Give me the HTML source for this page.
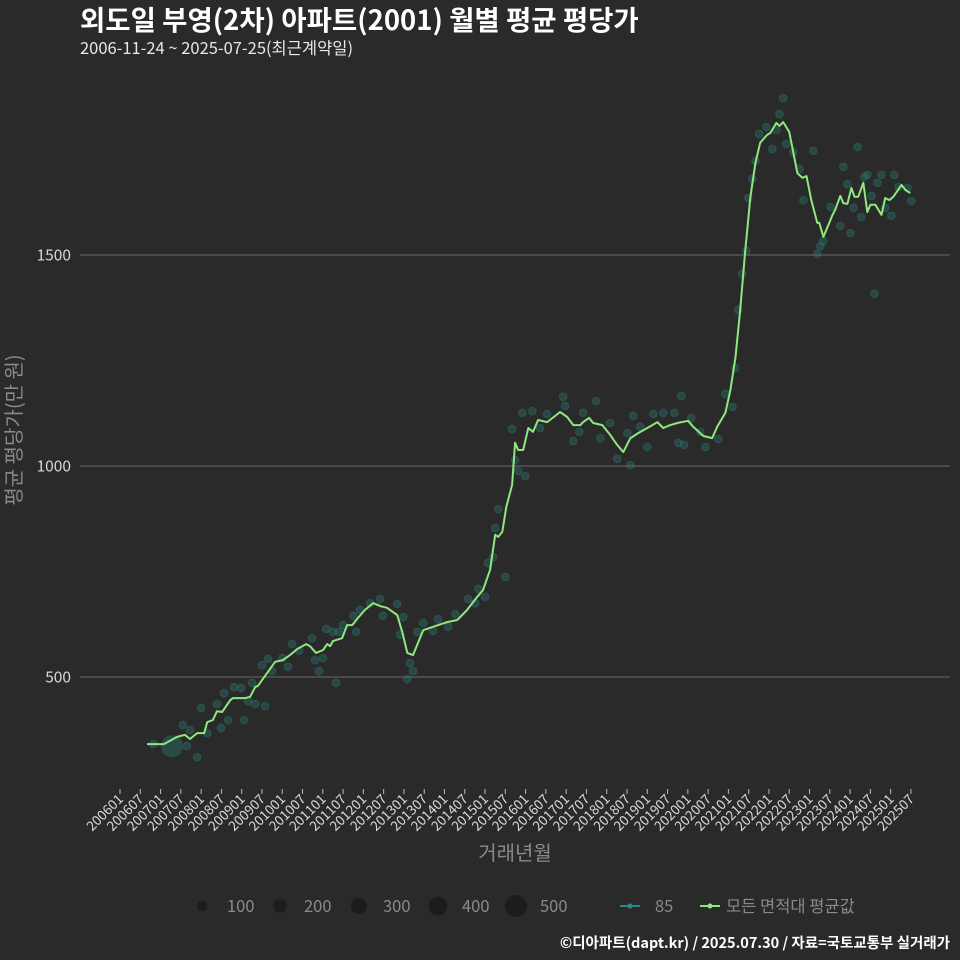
<!DOCTYPE html>
<html><head><meta charset="utf-8"><style>
html,body{margin:0;padding:0;background:#2b2a2b;}
svg{display:block;font-family:"Noto Sans CJK KR","Liberation Sans",sans-serif;}
</style></head><body>
<svg id="chart" width="960" height="960" viewBox="0 0 960 960">
<rect width="960" height="960" fill="#2b2a2b"/>
<text x="80" y="30" font-size="27.5" font-weight="bold" fill="#ffffff">외도일 부영(2차) 아파트(2001) 월별 평균 평당가</text>
<text x="80" y="54" font-size="16.5" fill="#e8e8e8">2006-11-24 ~ 2025-07-25(최근계약일)</text>
<g id="grid"></g>
<g id="xaxis"></g>
<g id="yaxis"></g>
<g id="dots"></g>
<g id="line"></g>
<text x="515" y="860" font-size="20" fill="#8a8a8a" text-anchor="middle">거래년월</text>
<text transform="translate(21,430) rotate(-90)" font-size="20" fill="#8a8a8a" text-anchor="middle">평균 평당가(만 원)</text>
<g>
<circle cx="202" cy="906" r="5" fill="#1c1c1c"/>
<text x="227" y="912" font-size="16.5" fill="#8a8a8a">100</text>
<circle cx="280" cy="906" r="6.5" fill="#1c1c1c"/>
<text x="304" y="912" font-size="16.5" fill="#8a8a8a">200</text>
<circle cx="359" cy="906" r="8" fill="#1c1c1c"/>
<text x="383" y="912" font-size="16.5" fill="#8a8a8a">300</text>
<circle cx="438" cy="906" r="9.5" fill="#1c1c1c"/>
<text x="462" y="912" font-size="16.5" fill="#8a8a8a">400</text>
<circle cx="516" cy="906" r="11" fill="#1c1c1c"/>
<text x="540" y="912" font-size="16.5" fill="#8a8a8a">500</text>
<line x1="620" y1="906" x2="640" y2="906" stroke="#2a8a88" stroke-width="2"/>
<circle cx="630" cy="906" r="2.5" fill="#2a8a88"/>
<text x="655" y="912" font-size="16.5" fill="#8a8a8a">85</text>
<line x1="700" y1="906" x2="720" y2="906" stroke="#8ee87e" stroke-width="2"/>
<circle cx="710" cy="906" r="2.5" fill="#8ee87e"/>
<text x="726" y="912" font-size="16.5" fill="#8a8a8a">모든 면적대 평균값</text>
</g>
<text x="950" y="948" font-size="14.5" font-weight="bold" fill="#ffffff" text-anchor="end">©디아파트(dapt.kr) / 2025.07.30 / 자료=국토교통부 실거래가</text>
</svg>
<script>
// month index = months since 2006-01
const lineMonths=[8,13,16.9,19.2,20.7,22.8,24.9,25.8,27.5,28.7,30.2,32.6,33.4,37,38.5,40,40.8,43.5,45.9,48.2,50.3,52.4,55.1,56.2,58,60.1,61.3,62.2,63,65.7,67.2,68.7,70.4,72.5,74.9,77,79,82,83.5,85,86.7,89.7,92.6,96.8,99.8,102.7,105.7,107.4,109.5,111,111.9,113.1,114.3,116,116.9,117.8,119.3,120.8,122.2,123.7,126.4,130.2,132.3,134.1,136.2,137,138.8,140,142.7,145,147.1,148.9,151,153.3,156,159,160.7,162.8,164.9,168.1,169.6,172.6,175.2,176.7,179.1,180.6,182.1,183.5,185,186.5,188,189.4,191.5,192.4,194.2,195.1,196.2,198,200.4,201.9,203.1,204.5,206.3,206.9,208.1,209.6,210.8,211.6,213.1,214,215.2,216.4,217.3,218.4,219.9,221.1,222,223.5,225.3,226.4,227.6,228.8,231.2,232.4,233.8];
const lineValues=[341,341,358,363,353,367,367,393,398,419,417,445,450,450,453,476,479,509,536,540,552,566,578,573,557,564,578,573,585,592,623,623,640,659,675,668,664,647,607,557,552,611,619,630,635,659,690,706,754,837,832,844,903,955,1055,1038,1038,1090,1081,1109,1104,1128,1116,1097,1097,1104,1114,1102,1097,1074,1050,1033,1066,1078,1090,1104,1090,1097,1102,1107,1093,1071,1066,1093,1126,1180,1258,1370,1512,1638,1718,1766,1785,1789,1813,1806,1815,1792,1694,1683,1687,1631,1576,1576,1543,1571,1595,1607,1640,1623,1621,1659,1638,1638,1671,1602,1619,1619,1595,1635,1630,1638,1666,1654,1647];
const dotMonths=[9.8,22.8,19.8,18.6,20.7,24,25.8,28.7,29.9,32,30.8,33.7,35.8,36.7,37.9,40,42.9,39.1,42,43.8,45,48,49.7,50.9,53,56.8,57.7,60.1,58.9,63.9,61,63,64.8,66,69.9,69,71,74,77,77.8,82,83.8,82.9,85.8,86.7,85,87.9,89.7,92.6,94.1,99.2,97.1,103,105.1,108,106,108.9,110.4,114,111,111.9,116.9,117.8,119.9,116,119,122,124.3,126.4,131.1,131.7,134.1,135.9,137,140.9,142.1,145,147.1,151,150.1,151.8,156,153.9,157.8,160.7,164,166.1,165.2,166.9,169,171.7,173.2,177,179.1,181.2,182,182.9,184.1,185.3,185.9,187.1,188,189.1,191.2,193,194.2,195.1,196.2,197.1,199.2,201,202.2,205.1,206.3,207.2,208.1,210.2,213.1,214,215.2,216.1,217,218.2,219.3,220.2,221.1,222.3,223.2,224.1,225.3,226.4,228.2,229.1,230.3,233,234.1];
const dotValues=[341,310,336,386,374,427,367,436,379,398,462,476,474,398,443,436,431,486,528,543,514,545,524,578,562,592,540,545,514,486,614,607,607,623,607,645,659,675,685,645,673,642,600,533,514,495,607,628,609,637,649,619,685,675,690,709,770,784,737,853,898,1014,988,976,1088,1126,1130,1090,1123,1164,1142,1059,1081,1126,1154,1066,1102,1017,1002,1078,1119,1045,1093,1123,1126,1126,1166,1055,1050,1114,1081,1045,1064,1171,1140,1232,1370,1455,1510,1635,1680,1723,1787,1803,1751,1796,1834,1872,1763,1744,1704,1630,1747,1503,1521,1533,1614,1569,1709,1668,1552,1612,1756,1590,1685,1690,1640,1408,1671,1690,1612,1593,1690,1661,1659,1628];
const bigDotMonths=[15.4];
const bigDotValues=[336];
const yTicks=[500,1000,1500];
const xTickLabels=[];
for(let y=2006;y<=2025;y++){xTickLabels.push(y+"01");xTickLabels.push(y+"07");}

const NS="http://www.w3.org/2000/svg";
function xScale(m){return 120+m*3.38;}
function yScale(v){return 677-(v-500)*0.422;}
function mk(tag,attrs,parent){const e=document.createElementNS(NS,tag);for(const k in attrs)e.setAttribute(k,attrs[k]);parent.appendChild(e);return e;}

const grid=document.getElementById('grid'),yax=document.getElementById('yaxis'),xax=document.getElementById('xaxis');
yTicks.forEach(t=>{
  const l=mk('line',{x1:80,x2:950,y1:yScale(t),y2:yScale(t),stroke:'#5e5e5e','stroke-width':1.2},grid);
  
  
  const tx=mk('text',{x:71,y:yScale(t)+5.5,'font-size':15.5,fill:'#d8d8d8','text-anchor':'end'},yax);
  tx.textContent=t;
  
  
});
xTickLabels.forEach((lab,i)=>{
  const x=xScale(i*6);
  const tk=mk('line',{x1:x,x2:x,y1:789,y2:794,stroke:'#bbbbbb','stroke-width':1},xax);
  
  
  const tx=mk('text',{transform:'translate('+(x+4)+',800) rotate(-45)','font-size':13.5,fill:'#d8d8d8','text-anchor':'end'},xax);
  tx.textContent=lab;
  
  
});
const dots=document.getElementById('dots');
dotMonths.forEach((m,i)=>{
  const c=mk('circle',{cx:xScale(m),cy:yScale(dotValues[i]),r:3.8,fill:'#2a8a80','fill-opacity':0.3,stroke:'#2a8a80','stroke-opacity':0.35,'stroke-width':1},dots);
  
  
});
bigDotMonths.forEach((m,i)=>{
  const c=mk('circle',{cx:xScale(m),cy:yScale(bigDotValues[i]),r:11,fill:'#2a8a80','fill-opacity':0.35},dots);
  
  
});
const pts=lineMonths.map((m,i)=>xScale(m).toFixed(1)+','+yScale(lineValues[i]).toFixed(1)).join(' ');
const pl=mk('polyline',{points:pts,fill:'none',stroke:'#8ee87e','stroke-width':2,'stroke-linejoin':'round'},document.getElementById('line'));


</script>
</body></html>
